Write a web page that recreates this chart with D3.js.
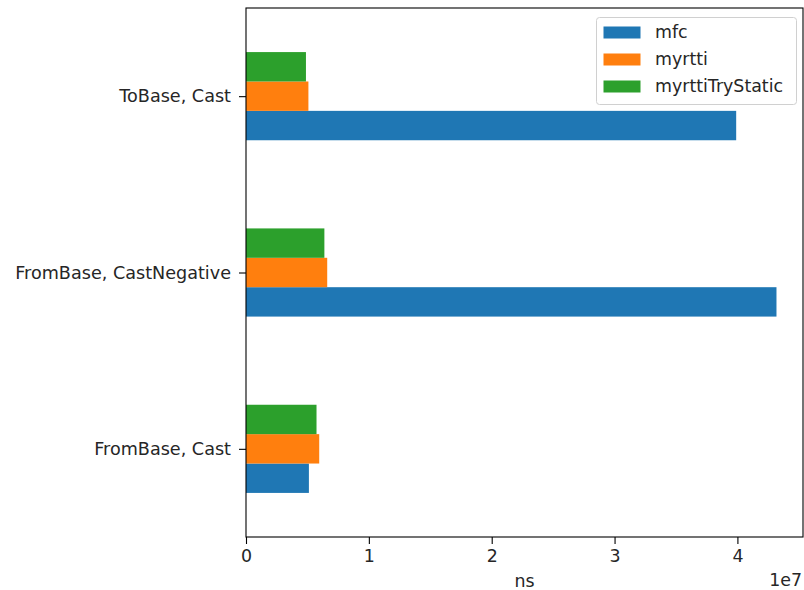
<!DOCTYPE html>
<html>
<head>
<meta charset="utf-8">
<script src="https://cdn.jsdelivr.net/npm/d3@7"></script>
<style>
  html, body { margin: 0; padding: 0; background: #fff; }
  svg { display: block; font-family: "DejaVu Sans", sans-serif; }
</style>
</head>
<body>
<svg id="chart" width="804" height="590"></svg>
<script>
// Benchmark categories (bottom to top) and timings in ns
const categories = ["FromBase, Cast", "FromBase, CastNegative", "ToBase, Cast"];
const seriesNames = ["mfc", "myrtti", "myrttiTryStatic"];
const mfc = [5.12e6, 4.318e7, 3.99e7];
const myrtti = [5.96e6, 6.61e6, 5.08e6];
const myrttiTryStatic = [5.74e6, 6.38e6, 4.88e6];
const xTicks = [0, 1e7, 2e7, 3e7, 4e7];
const colors = ["#1f77b4", "#ff7f0e", "#2ca02c"];

const series = [mfc, myrtti, myrttiTryStatic];
const FS = 17.4;

const svg = d3.select("#chart");
const plotLeft = 246, plotRight = 803, plotTop = 8, plotBottom = 537;

const maxVal = d3.max(series.flat());
const x = d3.scaleLinear().domain([0, maxVal * 1.05]).range([plotLeft, plotRight]);
const y = d3.scaleLinear().domain([-0.5, categories.length - 0.5]).range([plotBottom, plotTop]);

const barW = 0.5 / series.length;

// Bars: each group is centred on its category, series stacked upward
series.forEach((vals, si) => {
  svg.append("g").selectAll("rect")
    .data(vals)
    .join("rect")
    .attr("x", x(0))
    .attr("y", (d, i) => y(i - 0.25 + (si + 1) * barW))
    .attr("width", d => x(d) - x(0))
    .attr("height", y(0) - y(barW))
    .attr("fill", colors[si]);
});

// X axis
const xAxis = d3.axisBottom(x)
  .tickValues(xTicks)
  .tickFormat(d => d3.format("d")(d / 1e7))
  .tickSize(7).tickPadding(6);
const gx = svg.append("g").attr("transform", `translate(0,${plotBottom})`).call(xAxis);
gx.select(".domain").remove();
gx.selectAll("text").attr("font-size", FS).attr("fill", "#262626").attr("font-family", "DejaVu Sans");
gx.selectAll("line").attr("stroke", "#000").attr("stroke-width", 1.1);

// Y axis
const yAxis = d3.axisLeft(y)
  .tickValues(d3.range(categories.length))
  .tickFormat(i => categories[i])
  .tickSize(7).tickPadding(8);
const gy = svg.append("g").attr("transform", `translate(${plotLeft},0)`).call(yAxis);
gy.select(".domain").remove();
gy.selectAll("text").attr("font-size", 17.6).attr("fill", "#262626").attr("font-family", "DejaVu Sans");
gy.selectAll("line").attr("stroke", "#000").attr("stroke-width", 1.1);

// Frame
svg.append("rect")
  .attr("x", plotLeft).attr("y", plotTop)
  .attr("width", plotRight - plotLeft).attr("height", plotBottom - plotTop)
  .attr("fill", "none").attr("stroke", "#000").attr("stroke-width", 1.1);

// Axis label and offset text
svg.append("text").attr("x", (plotLeft + plotRight) / 2).attr("y", 587)
  .attr("text-anchor", "middle").attr("font-size", FS).attr("fill", "#262626").text("ns");
svg.append("text").attr("x", 802).attr("y", 586)
  .attr("text-anchor", "end").attr("font-size", FS).attr("fill", "#262626").text("1e7");

// Legend
const lg = svg.append("g");
lg.append("rect")
  .attr("x", 596.5).attr("y", 17.5).attr("width", 200).attr("height", 87)
  .attr("rx", 3).attr("fill", "#fff").attr("fill-opacity", 0.8)
  .attr("stroke", "#d0d0d0").attr("stroke-width", 1);
seriesNames.forEach((name, i) => {
  const cy = 32.5 + i * 27;
  lg.append("rect").attr("x", 603.5).attr("y", cy - 6).attr("width", 37).attr("height", 12).attr("fill", colors[i]);
  lg.append("text").attr("x", 655).attr("y", cy + 5.5).attr("font-size", FS).attr("fill", "#262626").text(name);
});
</script>
</body>
</html>
